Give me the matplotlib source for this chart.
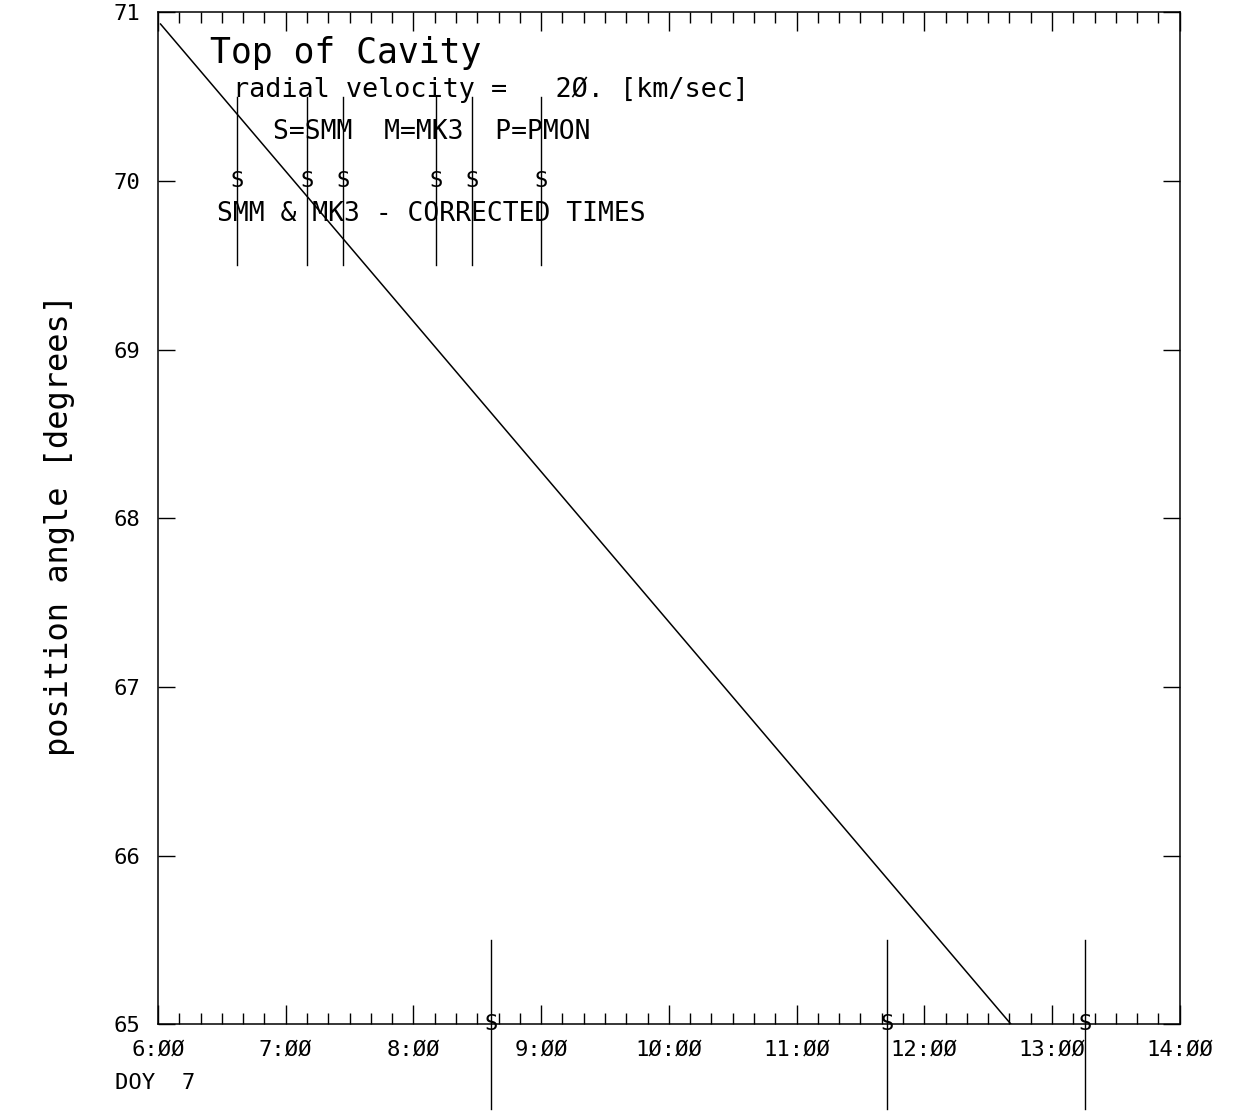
import numpy as np
import matplotlib
matplotlib.use("Agg")
import matplotlib.pyplot as plt
from matplotlib.ticker import MultipleLocator

plt.rcParams['font.family'] = ['DejaVu Sans Mono', 'DejaVu Sans']

# hours of day (DOY 7) and position angle of the top of the cavity
line_time = [6.02, 12.68]
line_angle = [70.93, 65.0]

# SMM event markers: time [h] and level where the marker is drawn
event_time = [6.62, 7.17, 7.45, 8.18, 8.46, 9.0, 8.61, 11.71, 13.26]
event_level = [70, 70, 70, 70, 70, 70, 65, 65, 65]
event_code = ['S'] * 9

xticks = [6, 7, 8, 9, 10, 11, 12, 13, 14]
xticklabels = ['6:ØØ', '7:ØØ', '8:ØØ', '9:ØØ', '1Ø:ØØ', '11:ØØ', '12:ØØ', '13:ØØ', '14:ØØ']
yticks = [65, 66, 67, 68, 69, 70, 71]

fig = plt.figure(figsize=(12.34, 11.11), dpi=100)
ax = fig.add_axes([0.128, 0.078, 0.828, 0.911])

ax.plot(line_time, line_angle, color='black', lw=1.1)

for t, lev, c in zip(event_time, event_level, event_code):
    ax.plot([t, t], [lev - 0.5, lev + 0.5], color='black', lw=1.0, clip_on=False)
    ax.text(t, lev, c, ha='center', va='center', fontsize=16, clip_on=False)

ax.set_xlim(6, 14)
ax.set_ylim(65, 71)
ax.set_xticks(xticks)
ax.set_xticklabels(xticklabels)
ax.set_yticks(yticks)
ax.xaxis.set_minor_locator(MultipleLocator(1 / 6))
ax.tick_params(axis='both', which='both', direction='in', top=True, right=True,
               labelsize=16, width=1.0)
ax.tick_params(axis='x', which='major', length=14, pad=11)
ax.tick_params(axis='x', which='minor', length=8)
ax.tick_params(axis='y', which='major', length=12, pad=13)
for s in ax.spines.values():
    s.set_linewidth(1.1)

ax.text(0.051, 0.960, 'Top of Cavity', transform=ax.transAxes, fontsize=25,
        va='center', ha='left')
ax.text(0.073, 0.923, 'radial velocity =   2Ø. [km/sec]', transform=ax.transAxes,
        fontsize=19.4, va='center', ha='left')
ax.text(0.1125, 0.882, 'S=SMM  M=MK3  P=PMON', transform=ax.transAxes,
        fontsize=19, va='center', ha='left')
ax.text(0.0577, 0.801, 'SMM & MK3 - CORRECTED TIMES', transform=ax.transAxes,
        fontsize=19, va='center', ha='left')
ax.text(-0.042, -0.058, 'DOY  7', transform=ax.transAxes, fontsize=16,
        va='center', ha='left')

ax.text(-0.096, 0.493, 'position angle [degrees]', transform=ax.transAxes,
        fontsize=23, rotation=90, va='center', ha='center')

fig.savefig('out.png', dpi=100)
